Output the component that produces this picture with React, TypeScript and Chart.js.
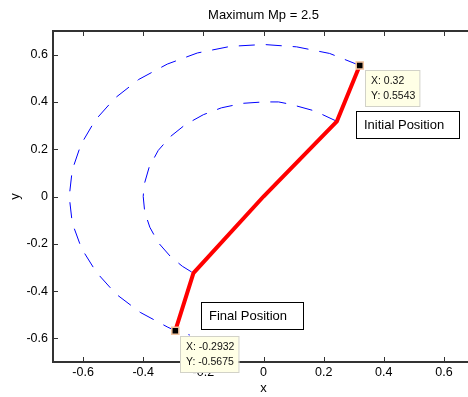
import { useEffect, useRef } from "react";
import { Chart, registerables } from "chart.js";

Chart.register(...registerables);

const FONT = '"Liberation Sans", Arial, Helvetica, sans-serif';

const titleText = "Maximum Mp = 2.5";
const xAxisLabel = "x";
const yAxisLabel = "y";
const tickValues = [-0.6, -0.4, -0.2, 0, 0.2, 0.4, 0.6];
const axisMin = -0.7;
const axisMax = 0.7;

// End-effector path (outer arc)
const endPathX = [0.32, 0.22, 0.11, 0.0, -0.11, -0.22, -0.32, -0.415, -0.495, -0.56, -0.607, -0.636, -0.646, -0.636, -0.605, -0.556, -0.491, -0.41, -0.318, -0.2932, -0.245];
const endPathY = [0.5543, 0.605, 0.633, 0.643, 0.635, 0.607, 0.56, 0.495, 0.415, 0.322, 0.22, 0.112, 0.0, -0.112, -0.22, -0.32, -0.412, -0.49, -0.553, -0.5675, -0.586];

// Elbow path (inner arc)
const elbowPathX = [0.244, 0.17, 0.09, 0.05, 0.0, -0.07, -0.14, -0.2, -0.26, -0.31, -0.35, -0.38, -0.397, -0.4, -0.395, -0.378, -0.35, -0.31, -0.27, -0.233, -0.215];
const elbowPathY = [0.318, 0.362, 0.39, 0.4, 0.4, 0.394, 0.375, 0.346, 0.304, 0.253, 0.195, 0.125, 0.05, 0.0, -0.065, -0.13, -0.195, -0.253, -0.295, -0.324, -0.338];

// Arm: initial tip -> initial elbow -> base -> final elbow -> final tip
const armX = [0.32, 0.244, 0, -0.233, -0.2932];
const armY = [0.5543, 0.318, 0, -0.324, -0.5675];

// Data tips at the initial and final tip positions
const tipX = [0.32, -0.2932];
const tipY = [0.5543, -0.5675];

const noteLabels = ["Initial Position", "Final Position"];

const toPoints = (xs: number[], ys: number[]) => xs.map((x, i) => ({ x, y: ys[i] }));

const overlayPlugin = {
  id: "overlay",
  afterDraw(chart: any) {
    const { ctx, chartArea } = chart;
    const xs = chart.scales.x;
    const ys = chart.scales.y;
    const { left, right, top, bottom } = chartArea;

    ctx.save();
    // axes box
    ctx.strokeStyle = "#333333";
    ctx.lineWidth = 2;
    ctx.strokeRect(left, top, right - left, bottom - top);

    // inward tick marks on all sides
    ctx.lineWidth = 1;
    const tl = 5;
    tickValues.forEach((v) => {
      const px = Math.round(xs.getPixelForValue(v)) + 0.5;
      ctx.beginPath();
      ctx.moveTo(px, bottom);
      ctx.lineTo(px, bottom - tl);
      ctx.moveTo(px, top);
      ctx.lineTo(px, top + tl);
      ctx.stroke();
      const py = Math.round(ys.getPixelForValue(v)) + 0.5;
      ctx.beginPath();
      ctx.moveTo(left, py);
      ctx.lineTo(left + tl, py);
      ctx.moveTo(right, py);
      ctx.lineTo(right - tl, py);
      ctx.stroke();
    });

    // title and axis labels
    ctx.fillStyle = "#000000";
    ctx.font = `13px ${FONT}`;
    ctx.textAlign = "center";
    ctx.textBaseline = "middle";
    ctx.fillText(titleText, (left + right) / 2, 15);
    ctx.fillText(xAxisLabel, (left + right) / 2, 388);
    ctx.save();
    ctx.translate(15, (top + bottom) / 2);
    ctx.rotate(-Math.PI / 2);
    ctx.fillText(yAxisLabel, 0, 0);
    ctx.restore();

    // position notes
    const notes = [
      { x: 356, y: 111, w: 103, h: 27 },
      { x: 201, y: 302, w: 102, h: 27 },
    ];
    ctx.font = `13px ${FONT}`;
    ctx.textAlign = "left";
    notes.forEach((n, i) => {
      ctx.fillStyle = "#ffffff";
      ctx.fillRect(n.x, n.y, n.w, n.h);
      ctx.strokeStyle = "#000000";
      ctx.lineWidth = 1;
      ctx.strokeRect(n.x + 0.5, n.y + 0.5, n.w, n.h);
      ctx.fillStyle = "#000000";
      ctx.fillText(noteLabels[i], n.x + 8, n.y + n.h / 2 + 1);
    });

    // data tips
    ctx.font = `10.5px ${FONT}`;
    tipX.forEach((vx, i) => {
      const mx = xs.getPixelForValue(vx);
      const my = ys.getPixelForValue(tipY[i]);
      const l1 = `X: ${vx}`;
      const l2 = `Y: ${tipY[i]}`;
      const w = Math.max(ctx.measureText(l1).width, ctx.measureText(l2).width) + 10;
      const bx = Math.round(mx + 5);
      const by = Math.round(my + 5);
      ctx.fillStyle = "#ffffe6";
      ctx.fillRect(bx, by, w, 36);
      ctx.strokeStyle = "#d2d2c8";
      ctx.strokeRect(bx + 0.5, by + 0.5, w, 36);
      ctx.fillStyle = "#111111";
      ctx.fillText(l1, bx + 6, by + 11);
      ctx.fillText(l2, bx + 6, by + 26);
    });
    ctx.restore();
  },
};

export default function App() {
  const canvasRef = useRef<HTMLCanvasElement | null>(null);

  useEffect(() => {
    if (!canvasRef.current) return;
    const chart = new Chart(canvasRef.current, {
      type: "scatter",
      data: {
        datasets: [
          {
            // tip markers, drawn on top
            data: toPoints(tipX, tipY),
            showLine: false,
            pointStyle: "rect",
            pointRadius: 5,
            backgroundColor: "#000000",
            borderColor: "#f3c4a0",
            borderWidth: 1.5,
            order: 0,
          },
          {
            data: toPoints(armX, armY),
            showLine: true,
            borderColor: "#ff0000",
            borderWidth: 4,
            pointRadius: 0,
            tension: 0,
            order: 1,
          },
          {
            data: toPoints(endPathX, endPathY),
            showLine: true,
            borderColor: "#0000ff",
            borderWidth: 1,
            borderDash: [16, 11],
            pointRadius: 0,
            tension: 0,
            order: 2,
          },
          {
            data: toPoints(elbowPathX, elbowPathY),
            showLine: true,
            borderColor: "#0000ff",
            borderWidth: 1,
            borderDash: [16, 11],
            pointRadius: 0,
            tension: 0,
            order: 3,
          },
        ],
      },
      options: {
        responsive: false,
        animation: false,
        events: [],
        layout: { padding: { top: 31, right: 16, left: 0, bottom: 0 } },
        plugins: {
          legend: { display: false },
          title: { display: false },
          tooltip: { enabled: false },
        },
        scales: {
          x: {
            type: "linear",
            min: axisMin,
            max: axisMax,
            grid: { display: false, drawTicks: false },
            border: { display: false },
            afterBuildTicks: (scale: any) => {
              scale.ticks = tickValues.map((value) => ({ value }));
            },
            afterFit: (scale: any) => {
              scale.height = 35;
            },
            ticks: {
              padding: 3,
              color: "#000000",
              font: { family: FONT, size: 12.5 },
              maxRotation: 0,
              autoSkip: false,
            },
          },
          y: {
            type: "linear",
            min: axisMin,
            max: axisMax,
            grid: { display: false, drawTicks: false },
            border: { display: false },
            afterBuildTicks: (scale: any) => {
              scale.ticks = tickValues.map((value) => ({ value }));
            },
            afterFit: (scale: any) => {
              scale.width = 53;
            },
            ticks: {
              padding: 5,
              color: "#000000",
              font: { family: FONT, size: 12.5 },
              autoSkip: false,
            },
          },
        },
      },
      plugins: [overlayPlugin],
    });
    return () => chart.destroy();
  }, []);

  return (
    <div
      style={{
        position: "fixed",
        left: 0,
        top: 0,
        width: 468,
        height: 397,
        overflow: "hidden",
        background: "#ffffff",
      }}
    >
      <canvas ref={canvasRef} width={490} height={397} style={{ display: "block" }} />
    </div>
  );
}
